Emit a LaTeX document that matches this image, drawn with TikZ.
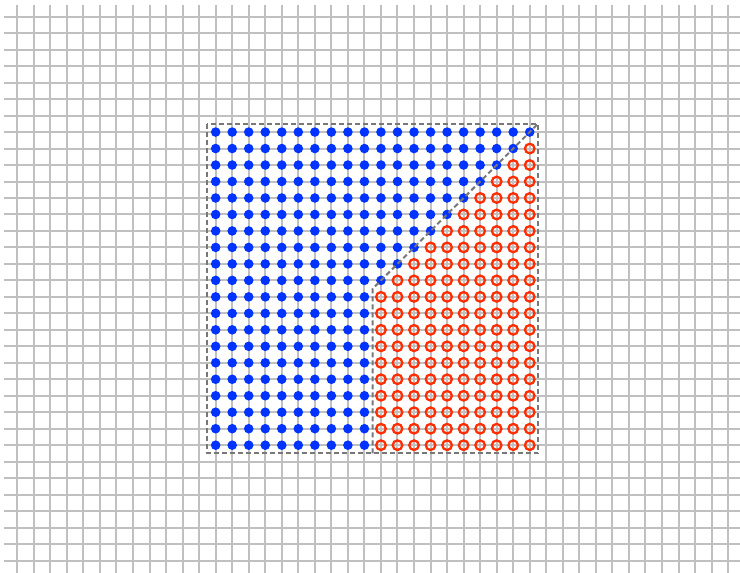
\documentclass[tikz,border=0pt]{standalone}
\definecolor{gridgray}{RGB}{192,192,192}
\definecolor{dotblue}{RGB}{0,51,255}
\definecolor{ringred}{RGB}{255,45,0}
\definecolor{dashgray}{RGB}{120,120,120}
\tikzset{
  gridline/.style={draw=gridgray, line width=2pt},
  bluedot/.style={fill=dotblue},
  redring/.style={draw=ringred, line width=2.3pt},
  boundary/.style={draw=dashgray, line width=2pt, dash pattern=on 5pt off 3pt}
}
\begin{document}
\begin{tikzpicture}[x=16.53pt,y=-16.48pt]
\useasboundingbox (-1.0466,-1.0133) rectangle (43.72,33.695);
\fill[white] (-1.0466,-1.0133) rectangle (43.72,33.695);
\begin{scope}
\clip (-1.0466,-1.0133) rectangle (43.72,33.695);
\foreach \i in {0,...,43} \draw[gridline] (\i,-0.713) -- (\i,34);
\foreach \j in {0,...,33} \draw[gridline] (-0.805,\j) -- (44,\j);
\end{scope}
% points
\foreach \c in {0,...,19} {
  \foreach \r in {0,...,19} {
    \pgfmathtruncatemacro{\s}{\c+\r}
    \ifnum\c>9
      \ifnum\s>19
        \draw[redring] ({12+\c},{7+\r}) circle (4.8pt);
      \else
        \fill[bluedot] ({12+\c},{7+\r}) circle (4.8pt);
      \fi
    \else
      \fill[bluedot] ({12+\c},{7+\r}) circle (4.8pt);
    \fi
  }
}
% boundaries
\draw[boundary] (11.5,6.5) rectangle (31.5,26.5);
\coordinate (split) at (21.5,16.5);
\coordinate (bottom) at (21.5,26.5);
\coordinate (corner) at (31.5,6.5);
\draw[boundary] (bottom) -- (split) -- (corner);
\end{tikzpicture}
\end{document}
